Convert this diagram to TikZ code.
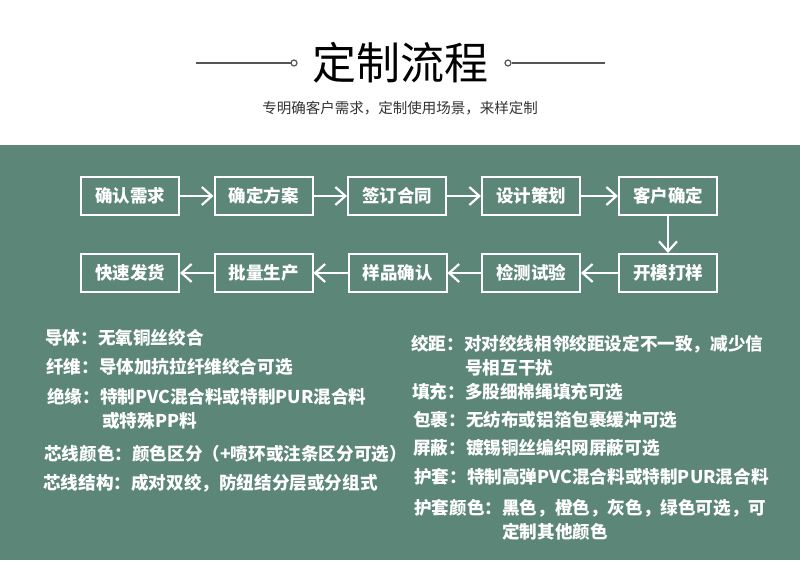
\documentclass[tikz,border=0pt]{standalone}
\usepackage{fontspec}
\newfontfamily\cjk{Noto Sans CJK SC}
\usetikzlibrary{arrows.meta}
\definecolor{bg}{HTML}{5C8677}
\definecolor{deco}{HTML}{555555}
\definecolor{subc}{HTML}{333333}
\tikzset{
  stepbox/.style={draw=white, line width=2pt, minimum width=98pt, minimum height=38pt, inner sep=0pt,
    text=white, font=\cjk\bfseries\fontsize{17.5}{17.5}\selectfont},
  flow/.style={draw=white, line width=2.2pt, -{Straight Barb[length=10pt,width=18pt]}},
  info/.style={anchor=west, inner sep=0pt, text=white, font=\cjk\bfseries\fontsize{17.6}{17.6}\selectfont},
}
\begin{document}
\begin{tikzpicture}[x=1pt,y=-1pt]
\useasboundingbox (0,0) rectangle (800,560);
\fill[white] (0,0) rectangle (800,145);
\fill[bg] (0,145) rectangle (800,560);
% title
\node[inner sep=0pt, font=\cjk\fontsize{44}{44}\selectfont] (title) at (400,63) {定制流程};
\node[inner sep=0pt, text=subc, font=\cjk\fontsize{14.5}{14.5}\selectfont] (sub) at (400,108) {专明确客户需求，定制使用场景，来样定制};
\draw[deco, line width=1.8pt] (196,63) -- (290.5,63);
\draw[deco, line width=1.2pt, fill=white] (294,63) circle (3pt);
\draw[deco, line width=1.2pt, fill=white] (508,63) circle (3pt);
\draw[deco, line width=1.8pt] (511.5,63) -- (605,63);
% row 1
\node[stepbox] (s1) at (130,196) {确认需求};
\node[stepbox] (s2) at (263.5,196) {确定方案};
\node[stepbox] (s3) at (397,196) {签订合同};
\node[stepbox] (s4) at (531,196) {设计策划};
\node[stepbox] (s5) at (668,196) {客户确定};
% row 2
\node[stepbox] (s6) at (668,273) {开模打样};
\node[stepbox] (s7) at (531,273) {检测试验};
\node[stepbox] (s8) at (397.5,273) {样品确认};
\node[stepbox] (s9) at (263.5,273) {批量生产};
\node[stepbox] (s10) at (130,273) {快速发货};
\draw[flow] (s1) -- (s2);
\draw[flow] (s2) -- (s3);
\draw[flow] (s3) -- (s4);
\draw[flow] (s4) -- (s5);
\draw[flow] (s5) -- (s6);
\draw[flow] (s6) -- (s7);
\draw[flow] (s7) -- (s8);
\draw[flow] (s8) -- (s9);
\draw[flow] (s9) -- (s10);
% left column
\node[info] (l1) at (45,338) {导体：无氧铜丝绞合};
\node[info] (l2) at (46,367) {纤维：导体加抗拉纤维绞合可选};
\node[info] (l3) at (47,397) {绝缘：特制PVC混合料或特制PUR混合料};
\node[info] (l3b) at (102,421) {或特殊PP料};
\node[info] (l4) at (44,454) {芯线颜色：颜色区分（+喷环或注条区分可选）};
\node[info] (l5) at (43,483) {芯线结构：成对双绞，防纽结分层或分组式};
% right column
\node[info] (r1) at (411,344) {绞距：对对绞线相邻绞距设定不一致，减少信};
\node[info] (r1b) at (465,368) {号相互干扰};
\node[info] (r2) at (412,392) {填充：多股细棉绳填充可选};
\node[info] (r3) at (413,420) {包裹：无纺布或铝箔包裹缓冲可选};
\node[info] (r4) at (413,448) {屏蔽：镀锡铜丝编织网屏蔽可选};
\node[info] (r5) at (414,477) {护套：特制高弹PVC混合料或特制PUR混合料};
\node[info] (r6) at (414,508) {护套颜色：黑色，橙色，灰色，绿色可选，可};
\node[info] (r6b) at (502,532) {定制其他颜色};
\end{tikzpicture}
\end{document}
